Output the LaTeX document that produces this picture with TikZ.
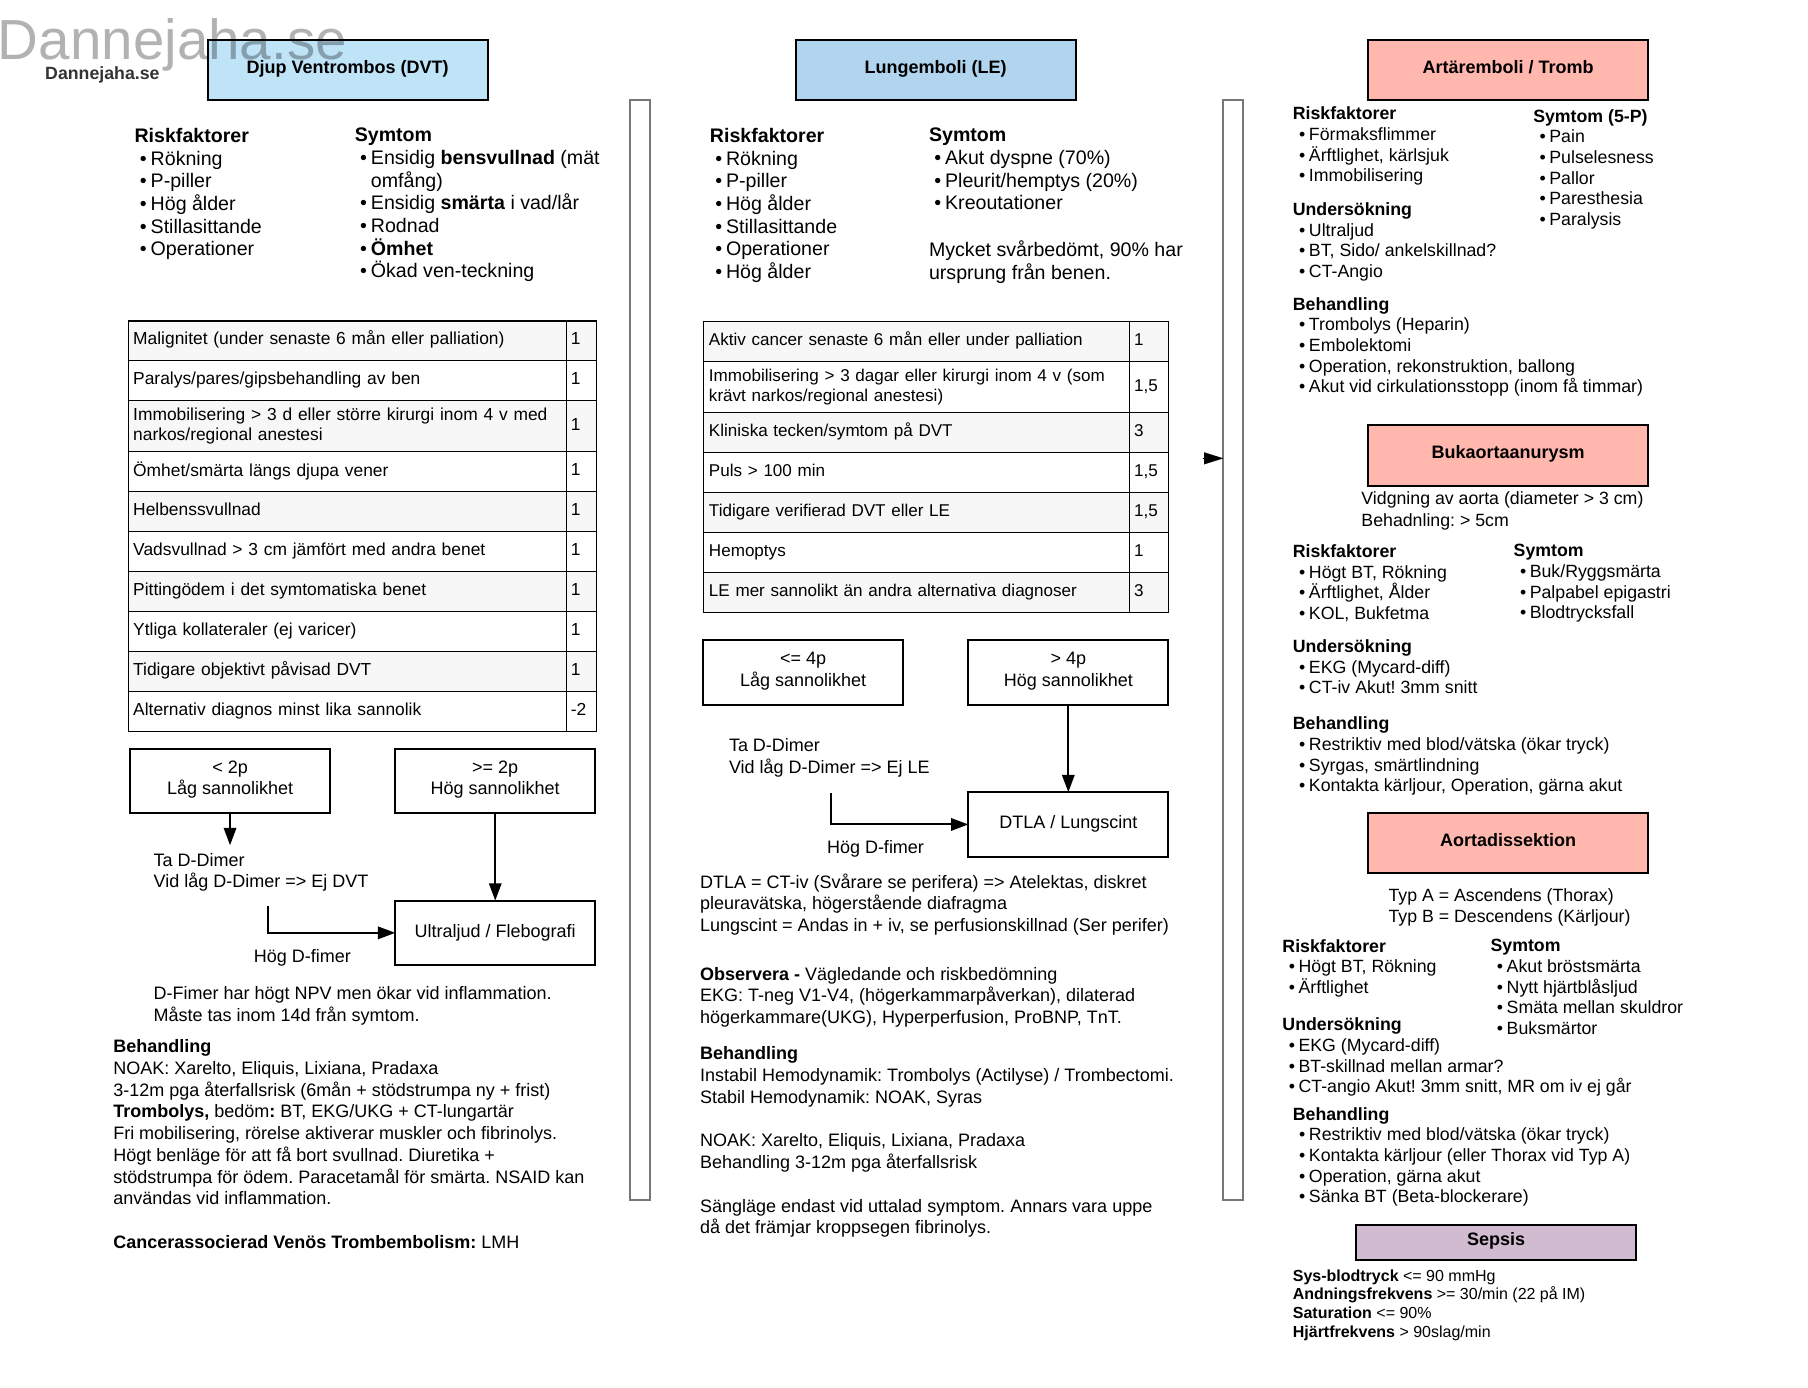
\documentclass[tikz,border=0pt]{standalone}
\usepackage{fontspec}
\setmainfont{Liberation Sans}
\usetikzlibrary{arrows.meta,positioning}
\frenchspacing
\definecolor{dvtblue}{HTML}{BFE3F7}
\definecolor{leblue}{HTML}{B1D5EF}
\definecolor{artred}{HTML}{FFB7AE}
\definecolor{sepsislila}{HTML}{D1BBD1}
\definecolor{rowgray}{HTML}{F7F7F7}
\definecolor{panelgray}{HTML}{777777}
\newcommand{\itm}{\makebox[12.1pt][r]{\textbullet\hspace{.2em}}}
\newcommand{\hng}{\hspace*{12.1pt}}
\tikzset{
    raised/.style = {
        execute at begin node={\rule{0pt}{.7\baselineskip}},
        execute at end node={\rule[-#1]{0pt}{#1}},
        },
    title/.style = {
        draw, line width=1.5pt, outer sep=0pt, inner sep=0pt,
        minimum width=210pt, minimum height=45pt,
        font=\fontsize{13.5}{15.5}\selectfont\bfseries,
        raised=5.9pt,
        },
    listtext/.style = {
        anchor=north west, inner sep=0pt, align=left,
        font=\fontsize{14.7}{17}\selectfont,
        execute at begin node=\strut,
        },
    flowtext/.style = {
        anchor=north west, inner sep=0pt, align=left,
        font=\fontsize{13.5}{16.3}\selectfont,
        execute at begin node=\strut,
        },
    sidetext/.style = {
        anchor=north west, inner sep=0pt, align=left,
        font=\fontsize{13.3}{15.5}\selectfont,
        execute at begin node=\strut,
        },
    smalltext/.style = {
        anchor=north west, inner sep=0pt, align=left,
        font=\fontsize{12}{14}\selectfont,
        execute at begin node=\strut,
        },
    cell/.style = {
        draw, line width=.8pt, outer sep=0pt, inner ysep=0pt, inner xsep=3.5pt,
        align=left, minimum height=30pt,
        font=\fontsize{13.05}{15}\selectfont,
        raised=4.5pt,
        },
    rowA/.style = {cell, text width=321.3pt},
    scoreA/.style = {cell, text width=15.5pt},
    rowB/.style = {cell, inner xsep=4.2pt, text width=311.2pt, font=\fontsize{12.8}{15}\selectfont},
    scoreB/.style = {cell, text width=22.4pt, font=\fontsize{12.8}{15}\selectfont},
    tall/.style = {minimum height=38.2pt},
    odd/.style = {fill=rowgray},
    even/.style = {fill=white},
    flowbox/.style = {
        draw, line width=1.5pt, outer sep=0pt, inner sep=0pt, align=center,
        minimum width=150pt, minimum height=48.4pt,
        font=\fontsize{13.5}{16.3}\selectfont,
        raised=5pt,
        },
    panel/.style = {
        draw=panelgray, line width=1.5pt, outer sep=0pt, inner sep=0pt,
        minimum width=15pt, minimum height=825pt,
        },
    link/.style = {
        line width=1.5pt, -{Triangle[length=13pt,width=9.3pt]},
        },
    panel head/.style = {
        line width=.1pt, -{Triangle[length=14.4pt,width=9pt]},
        },
}
\begin{document}
\begin{tikzpicture}[x=0.865pt,y=-0.865pt]
    \useasboundingbox (0,0) rectangle (1568,1203.7);

    % DVT
    \node[title, fill=dvtblue] (dvt) at (301.5,61) {Djup Ventrombos (DVT)};
    \node[listtext] (dvtrisk) at (116.5,111) {\textbf{Riskfaktorer}\\\itm Rökning\\\itm P-piller\\\itm Hög ålder\\\itm Stillasittande\\\itm Operationer};
    \node[listtext] (dvtsym) at (307.5,111) {\textbf{Symtom}\\\itm Ensidig \textbf{bensvullnad} (mät\\\hng omfång)\\\itm Ensidig \textbf{smärta} i vad/lår\\\itm Rodnad\\\itm \textbf{Ömhet}\\\itm Ökad ven-teckning};

    \node[rowA, odd] (dvtA) at (301.25,295.7) {Malignitet (under senaste 6 mån eller palliation)};
    \node[rowA, even, below=0pt of dvtA] (dvtB) {Paralys/pares/gipsbehandling av ben};
    \node[rowA, odd, tall, below=0pt of dvtB] (dvtC) {Immobilisering > 3 d eller större kirurgi inom 4 v med\\narkos/regional anestesi};
    \node[rowA, even, below=0pt of dvtC] (dvtD) {Ömhet/smärta längs djupa vener};
    \node[rowA, odd, below=0pt of dvtD] (dvtE) {Helbenssvullnad};
    \node[rowA, even, below=0pt of dvtE] (dvtF) {Vadsvullnad > 3 cm jämfört med andra benet};
    \node[rowA, odd, below=0pt of dvtF] (dvtG) {Pittingödem i det symtomatiska benet};
    \node[rowA, even, below=0pt of dvtG] (dvtH) {Ytliga kollateraler (ej varicer)};
    \node[rowA, odd, below=0pt of dvtH] (dvtI) {Tidigare objektivt påvisad DVT};
    \node[rowA, even, below=0pt of dvtI] (dvtJ) {Alternativ diagnos minst lika sannolik};
    \node[scoreA, odd, right=0pt of dvtA] (dvtAp) {1};
    \node[scoreA, even, right=0pt of dvtB] (dvtBp) {1};
    \node[scoreA, odd, tall, right=0pt of dvtC] (dvtCp) {1};
    \node[scoreA, even, right=0pt of dvtD] (dvtDp) {1};
    \node[scoreA, odd, right=0pt of dvtE] (dvtEp) {1};
    \node[scoreA, even, right=0pt of dvtF] (dvtFp) {1};
    \node[scoreA, odd, right=0pt of dvtG] (dvtGp) {1};
    \node[scoreA, even, right=0pt of dvtH] (dvtHp) {1};
    \node[scoreA, odd, right=0pt of dvtI] (dvtIp) {1};
    \node[scoreA, even, right=0pt of dvtJ] (dvtJp) {-2};

    \node[flowbox] (dvtlow) at (199.5,677.4) {< 2p\\Låg sannolikhet};
    \node[flowbox] (dvthigh) at (429.5,677.4) {>= 2p\\Hög sannolikhet};
    \node[flowbox] (ultra) at (429.5,809) {Ultraljud / Flebografi};
    \coordinate (dvtdrop) at (199.5,733);
    \coordinate (dvtturn) at (232.6,786);
    \node[flowtext] (dvtdimer) at (133,739.5) {Ta D-Dimer\\Vid låg D-Dimer => Ej DVT};
    \node[flowtext] (dvtfimer) at (220,821) {Hög D-fimer};
    \node[flowtext] (dvtnote) at (133,855.5) {D-Fimer har högt NPV men ökar vid inflammation.\\Måste tas inom 14d från symtom.};
    \node[flowtext] (dvtbeh) at (98,901.5) {\textbf{Behandling}\\NOAK: Xarelto, Eliquis, Lixiana, Pradaxa\\3-12m pga återfallsrisk (6mån + stödstrumpa ny + frist)\\\textbf{Trombolys,} bedöm\textbf{:} BT, EKG/UKG + CT-lungartär\\Fri mobilisering, rörelse aktiverar muskler och fibrinolys.\\Högt benläge för att få bort svullnad. Diuretika +\\stödstrumpa för ödem. Paracetamål för smärta. NSAID kan\\användas vid inflammation.\\[16.3pt]\textbf{Cancerassocierad Venös Trombembolism:} LMH};

    \draw[link] (dvtlow) -- (dvtdrop);
    \draw[link] (dvthigh) -- (ultra);
    \draw[link] (dvtturn) |- (ultra);

    \node[panel] (panelA) at (555,564) {};

    % LE
    \node[title, fill=leblue] (le) at (811.5,61) {Lungemboli (LE)};
    \node[listtext] (lerisk) at (615.5,111) {\textbf{Riskfaktorer}\\\itm Rökning\\\itm P-piller\\\itm Hög ålder\\\itm Stillasittande\\\itm Operationer\\\itm Hög ålder};
    \node[listtext] (lesym) at (805.5,111) {\textbf{Symtom}\\\itm Akut dyspne (70\%)\\\itm Pleurit/hemptys (20\%)\\\itm Kreoutationer};
    \node[listtext] (lenote) at (805.5,208.5) {Mycket svårbedömt, 90\% har\\ursprung från benen.};

    \node[rowB, odd] (leA) at (794.75,296.4) {Aktiv cancer senaste 6 mån eller under palliation};
    \node[rowB, even, tall, below=0pt of leA] (leB) {Immobilisering > 3 dagar eller kirurgi inom 4 v (som\\krävt narkos/regional anestesi)};
    \node[rowB, odd, below=0pt of leB] (leC) {Kliniska tecken/symtom på DVT};
    \node[rowB, even, below=0pt of leC] (leD) {Puls > 100 min};
    \node[rowB, odd, below=0pt of leD] (leE) {Tidigare verifierad DVT eller LE};
    \node[rowB, even, below=0pt of leE] (leF) {Hemoptys};
    \node[rowB, odd, below=0pt of leF] (leG) {LE mer sannolikt än andra alternativa diagnoser};
    \node[scoreB, odd, right=0pt of leA] (leAp) {1};
    \node[scoreB, even, tall, right=0pt of leB] (leBp) {1,5};
    \node[scoreB, odd, right=0pt of leC] (leCp) {3};
    \node[scoreB, even, right=0pt of leD] (leDp) {1,5};
    \node[scoreB, odd, right=0pt of leE] (leEp) {1,5};
    \node[scoreB, even, right=0pt of leF] (leFp) {1};
    \node[scoreB, odd, right=0pt of leG] (leGp) {3};

    \node[flowbox] (lelow) at (696.5,583.4) {<= 4p\\Låg sannolikhet};
    \node[flowbox] (lehigh) at (926.5,583.4) {> 4p\\Hög sannolikhet};
    \node[flowbox] (dtla) at (926.5,715) {DTLA / Lungscint};
    \coordinate (leturn) at (721,688);
    \node[flowtext] (ledimer) at (632,640) {Ta D-Dimer\\Vid låg D-Dimer => Ej LE};
    \node[flowtext] (lefimer) at (717,726.5) {Hög D-fimer};
    \node[flowtext] (ledtla) at (607,757.5) {DTLA = CT-iv (Svårare se perifera) => Atelektas, diskret\\pleuravätska, högerstående diafragma\\Lungscint = Andas in + iv, se perfusionskillnad (Ser perifer)};
    \node[flowtext] (leobs) at (607,838.5) {\textbf{Observera -} Vägledande och riskbedömning\\EKG: T-neg V1-V4, (högerkammarpåverkan), dilaterad\\högerkammare(UKG), Hyperperfusion, ProBNP, TnT.};
    \node[flowtext] (lebeh) at (607,907.7) {\textbf{Behandling}\\Instabil Hemodynamik: Trombolys (Actilyse) / Trombectomi.\\Stabil Hemodynamik: NOAK, Syras\\[16.3pt]NOAK: Xarelto, Eliquis, Lixiana, Pradaxa\\Behandling 3-12m pga återfallsrisk\\[16.3pt]Sängläge endast vid uttalad symptom. Annars vara uppe\\då det främjar kroppsegen fibrinolys.};

    \draw[link] (lehigh) -- (dtla);
    \draw[link] (leturn) |- (dtla);

    \node[panel] (panelB) at (1069.5,564) {};
    \coordinate (headB) at (1043,397.5);
    \draw[panel head] (headB) -- (panelB.west |- headB);

    % Artaremboli
    \node[title, fill=artred] (art) at (1308,61) {Artäremboli / Tromb};
    \node[sidetext] (artrisk) at (1121,92.5) {\textbf{Riskfaktorer}\\\itm Förmaksflimmer\\\itm Ärftlighet, kärlsjuk\\\itm Immobilisering};
    \node[sidetext] (artsym) at (1329.5,94.5) {\textbf{Symtom (5-P)}\\\itm Pain\\\itm Pulselesness\\\itm Pallor\\\itm Paresthesia\\\itm Paralysis};
    \node[sidetext] (artund) at (1121,175.5) {\textbf{Undersökning}\\\itm Ultraljud\\\itm BT, Sido/ ankelskillnad?\\\itm CT-Angio};
    \node[sidetext] (artbeh) at (1121,257.5) {\textbf{Behandling}\\\itm Trombolys (Heparin)\\\itm Embolektomi\\\itm Operation, rekonstruktion, ballong\\\itm Akut vid cirkulationsstopp (inom få timmar)};

    % Bukaorta
    \node[title, fill=artred, minimum height=46pt] (buk) at (1308,395) {Bukaortaanurysm};
    \node[flowtext, font=\fontsize{13.3}{16.3}\selectfont] (bukinfo) at (1180.5,426.5) {Vidgning av aorta (diameter > 3 cm)\\Behadnling: > 5cm};
    \node[sidetext] (bukrisk) at (1121,472) {\textbf{Riskfaktorer}\\\itm Högt BT, Rökning\\\itm Ärftlighet, Ålder\\\itm KOL, Bukfetma};
    \node[sidetext] (buksym) at (1312.5,472) {\textbf{Symtom}\\\itm Buk/Ryggsmärta\\\itm Palpabel epigastri\\\itm Blodtrycksfall};
    \node[sidetext] (bukund) at (1121,554.5) {\textbf{Undersökning}\\\itm EKG (Mycard-diff)\\\itm CT-iv Akut! 3mm snitt};
    \node[sidetext] (bukbeh) at (1121,621.5) {\textbf{Behandling}\\\itm Restriktiv med blod/vätska (ökar tryck)\\\itm Syrgas, smärtlindning\\\itm Kontakta kärljour, Operation, gärna akut};

    % Aortadissektion
    \node[title, fill=artred] (aorta) at (1308,731) {Aortadissektion};
    \node[sidetext] (aortatyp) at (1204,770.5) {Typ A = Ascendens (Thorax)\\Typ B = Descendens (Kärljour)};
    \node[sidetext] (aortarisk) at (1112,814.5) {\textbf{Riskfaktorer}\\\itm Högt BT, Rökning\\\itm Ärftlighet};
    \node[sidetext] (aortasym) at (1292.5,814.5) {\textbf{Symtom}\\\itm Akut bröstsmärta\\\itm Nytt hjärtblåsljud\\\itm Smäta mellan skuldror\\\itm Buksmärtor};
    \node[sidetext] (aortaund) at (1112,882.5) {\textbf{Undersökning}\\\itm EKG (Mycard-diff)\\\itm BT-skillnad mellan armar?\\\itm CT-angio Akut! 3mm snitt, MR om iv ej går};
    \node[sidetext] (aortabeh) at (1121,960) {\textbf{Behandling}\\\itm Restriktiv med blod/vätska (ökar tryck)\\\itm Kontakta kärljour (eller Thorax vid Typ A)\\\itm Operation, gärna akut\\\itm Sänka BT (Beta-blockerare)};

    % Sepsis
    \node[title, fill=sepsislila, minimum height=26.8pt, raised=2.8pt] (sepsis) at (1297.5,1077.5) {Sepsis};
    \node[smalltext] (sepsisinfo) at (1121,1100.7) {\textbf{Sys-blodtryck} <= 90 mmHg\\\textbf{Andningsfrekvens} >= 30/min (22 på IM)\\\textbf{Saturation} <= 90\%\\\textbf{Hjärtfrekvens} > 90slag/min};

    % vattenmärke
    \node[anchor=base west, inner sep=0pt, font=\fontsize{42.4}{48}\selectfont, text=black, text opacity=.3] (mark) at (-2,52) {Dannejaha.se};
    \node[anchor=base west, inner sep=0pt, font=\fontsize{13.3}{15}\selectfont\bfseries, text=black!80] (logo) at (39,69) {Dannejaha.se};
\end{tikzpicture}
\end{document}
